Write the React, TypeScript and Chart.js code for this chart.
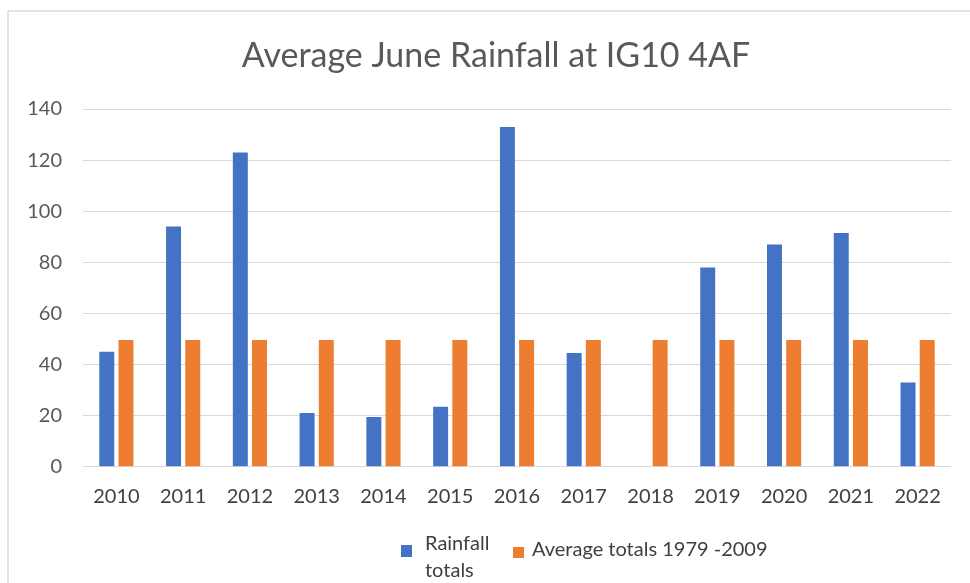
import React, { useEffect, useRef } from "react";
import { Chart, registerables } from "chart.js";

Chart.register(...registerables);

const TITLE = "Average June Rainfall at IG10 4AF";
const categories = ["2010", "2011", "2012", "2013", "2014", "2015", "2016", "2017", "2018", "2019", "2020", "2021", "2022"];
const rainfallLabel = "Rainfall totals";
const rainfallTotals = [45, 94, 123, 21, 19.5, 23.5, 133, 44.5, null, 78, 87, 91.5, 33];
const averageLabel = "Average totals 1979 -2009";
const averageTotals = [49.6, 49.6, 49.6, 49.6, 49.6, 49.6, 49.6, 49.6, 49.6, 49.6, 49.6, 49.6, 49.6];
const yTicks = [0, 20, 40, 60, 80, 100, 120, 140];

const BLUE = "#4472C4";
const ORANGE = "#ED7D31";
const FONT = "Lato, 'Open Sans', sans-serif";

const titlePlugin = {
  id: "excelTitle",
  afterDraw(chart: any) {
    const ctx = chart.ctx;
    ctx.save();
    ctx.font = `34px ${FONT}`;
    ctx.fillStyle = "#595959";
    ctx.textAlign = "center";
    ctx.textBaseline = "alphabetic";
    ctx.fillText(TITLE, 496, 66.5);
    ctx.restore();
  },
};

const legendPlugin = {
  id: "excelLegend",
  afterDraw(chart: any) {
    const ctx = chart.ctx;
    const ds = chart.data.datasets;
    // item layout: [squareX, squareY, squareW, squareH, textX, firstBaseline, wrapWidth]
    const layout = [
      [401, 545, 11, 12, 425, 550, 80],
      [513, 547, 11, 11, 532, 556, 400],
    ];
    ctx.save();
    ctx.font = `20px ${FONT}`;
    ctx.textBaseline = "alphabetic";
    ctx.textAlign = "left";
    ds.forEach((d: any, i: number) => {
      const [sx, sy, sw, sh, tx, by, ww] = layout[i];
      ctx.fillStyle = d.backgroundColor;
      ctx.fillRect(sx, sy, sw, sh);
      const words = String(d.label).split(" ");
      const lines: string[] = [];
      let cur = "";
      words.forEach((w) => {
        const t = cur ? cur + " " + w : w;
        if (cur && ctx.measureText(t).width > ww) {
          lines.push(cur);
          cur = w;
        } else cur = t;
      });
      if (cur) lines.push(cur);
      ctx.fillStyle = "#404040";
      lines.forEach((ln, k) => ctx.fillText(ln, tx, by + k * 27));
    });
    ctx.restore();
  },
};

export default function App() {
  const ref = useRef<HTMLCanvasElement | null>(null);
  useEffect(() => {
    if (!ref.current) return;
    const chart = new Chart(ref.current, {
      type: "bar",
      data: {
        labels: categories,
        datasets: [
          { label: rainfallLabel, data: rainfallTotals as any, backgroundColor: BLUE, categoryPercentage: 0.575, barPercentage: 0.78 },
          { label: averageLabel, data: averageTotals, backgroundColor: ORANGE, categoryPercentage: 0.575, barPercentage: 0.78 },
        ],
      },
      options: {
        animation: false,
        responsive: false,
        maintainAspectRatio: false,
        layout: { padding: { left: 0, right: 19, top: 109, bottom: 0 } },
        plugins: {
          legend: { display: false },
          tooltip: { enabled: false },
          title: { display: false },
        },
        scales: {
          x: {
            grid: { display: false, drawTicks: false },
            border: { display: false },
            ticks: { color: "#404040", font: { family: FONT, size: 20 }, padding: 18, maxRotation: 0, autoSkip: false },
            afterFit(scale: any) {
              scale.height = 116.3;
            },
          },
          y: {
            min: 0,
            max: 140,
            afterBuildTicks(scale: any) {
              scale.ticks = yTicks.map((v) => ({ value: v }));
            },
            grid: { color: "#d9d9d9", lineWidth: 1, drawTicks: false },
            border: { display: false },
            ticks: { color: "#595959", font: { family: FONT, size: 20 }, padding: 21 },
            afterFit(scale: any) {
              scale.width = 83;
            },
          },
        },
      },
      plugins: [titlePlugin, legendPlugin],
    });
    return () => chart.destroy();
  }, []);
  return (
    <div style={{ position: "absolute", left: 0, top: 0, width: 970, height: 583, overflow: "hidden", background: "#fff" }}>
      <div style={{ position: "absolute", left: 7, top: 10, width: 980, height: 600, borderLeft: "2px solid #e3e3e3", borderTop: "2px solid #e3e3e3" }} />
      <canvas ref={ref} width={970} height={583} style={{ position: "absolute", left: 0, top: 0, width: 970, height: 583 }} />
    </div>
  );
}
